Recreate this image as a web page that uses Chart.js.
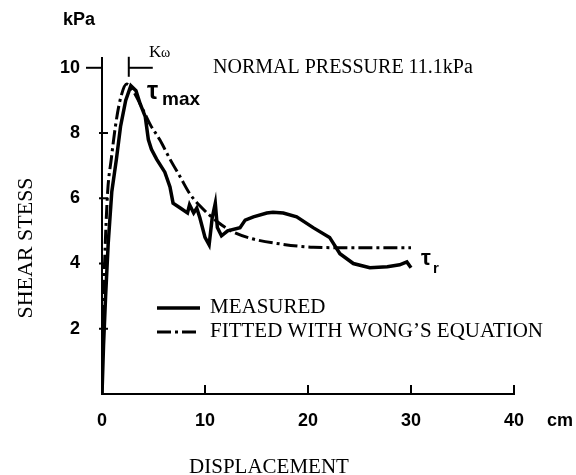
<!DOCTYPE html>
<html>
<head>
<meta charset="utf-8">
<title>Shear stress vs displacement</title>
<script src="https://cdn.jsdelivr.net/npm/chart.js@4.4.1/dist/chart.umd.min.js"></script>
<style>
  html, body { margin: 0; padding: 0; background: #fff; }
  canvas { display: block; }
</style>
</head>
<body>
<canvas id="chart" width="576" height="475"></canvas>
<script>
// displacement (cm) / shear stress (kPa)
const measuredX = [0, 0.15, 0.35, 0.6, 0.95, 1.4, 1.8, 2.3, 2.8, 3.3, 3.7, 4.2, 4.5, 4.8, 5.3, 6.1, 6.6, 6.9, 7.6, 8.3, 8.5, 8.9, 9.2, 9.5, 10.0, 10.4, 10.7, 11.0, 11.2, 11.6, 12.2, 13.4, 13.9, 14.7, 16.0, 16.6, 17.6, 18.9, 20.5, 22.1, 23.1, 24.4, 26.0, 27.7, 28.9, 29.6, 30.0];
const measuredY = [0, 1.5, 3.0, 4.6, 6.2, 7.2, 8.2, 9.0, 9.45, 9.3, 8.9, 8.5, 7.8, 7.5, 7.2, 6.8, 6.35, 5.85, 5.7, 5.55, 5.8, 5.55, 5.7, 5.4, 4.8, 4.57, 5.4, 5.85, 5.1, 4.85, 5.0, 5.1, 5.33, 5.43, 5.55, 5.57, 5.55, 5.43, 5.1, 4.8, 4.3, 4.0, 3.87, 3.9, 3.96, 4.05, 3.87];

const fittedX = [0, 0.1, 0.25, 0.55, 0.9, 1.3, 1.75, 2.4, 3.0, 4.0, 4.7, 5.6, 6.6, 7.6, 8.5, 9.5, 11.2, 12.7, 14.7, 17.3, 20.5, 25.0, 30.0];
const fittedY = [0, 2.2, 4.0, 6.2, 7.2, 8.2, 9.0, 9.5, 9.3, 8.7, 8.25, 7.8, 7.2, 6.65, 6.15, 5.77, 5.28, 4.97, 4.75, 4.6, 4.5, 4.48, 4.48];

const xTicks = [0, 10, 20, 30, 40];
const yTicks = [0, 2, 4, 6, 8, 10];
const seriesNames = ['MEASURED', 'FITTED WITH WONG\u2019S EQUATION'];
const peakX = 2.6; // K-omega marker

const toPoints = (xs, ys) => xs.map((x, i) => ({ x: x, y: ys[i] }));

const SANS = '"Liberation Sans", Arial, sans-serif';
const SERIF = '"Liberation Serif", "Times New Roman", serif';

const decorations = {
  id: 'decorations',
  afterDraw(chart) {
    const { ctx, scales: { x, y } } = chart;
    const line = (x1, y1, x2, y2) => {
      ctx.beginPath();
      ctx.moveTo(x1, y1);
      ctx.lineTo(x2, y2);
      ctx.stroke();
    };
    ctx.save();
    ctx.strokeStyle = '#000';
    ctx.fillStyle = '#000';
    ctx.lineWidth = 2;

    // inward ticks
    x.ticks.forEach(t => {
      if (t.value === 0) return;
      const px = x.getPixelForValue(t.value);
      line(px, y.bottom, px, y.bottom - 9);
    });
    y.ticks.forEach(t => {
      if (t.value === 0) return;
      const py = y.getPixelForValue(t.value);
      if (t.value === 10) line(x.left - 16, py, x.left, py);
      else line(x.left - 3, py, x.left + 6, py);
    });

    // K-omega marker
    const kx = x.getPixelForValue(peakX);
    const ky = y.getPixelForValue(10);
    line(kx, ky - 11, kx, ky + 9);
    line(kx, ky, kx + 24, ky);
    ctx.textBaseline = 'alphabetic';
    ctx.textAlign = 'left';
    ctx.font = '17px ' + SERIF;
    ctx.fillText('K', 149, 57);
    ctx.font = '14px ' + SERIF;
    ctx.fillText('\u03c9', 161, 57);

    ctx.font = '20px ' + SERIF;
    ctx.fillText('NORMAL PRESSURE 11.1kPa', 213, 73);

    // tau labels
    ctx.font = 'bold 25px ' + SANS;
    ctx.fillText('\u03c4', 147, 99);
    ctx.font = 'bold 19px ' + SANS;
    ctx.fillText('max', 162, 105);
    ctx.font = 'bold 22px ' + SANS;
    ctx.fillText('\u03c4', 421, 265);
    ctx.font = 'bold 15px ' + SANS;
    ctx.fillText('r', 433, 273);

    // units
    ctx.font = 'bold 18px ' + SANS;
    ctx.textBaseline = 'middle';
    ctx.fillText('kPa', 63, 20);
    ctx.fillText('cm', 547, 421);

    // legend
    ctx.textBaseline = 'alphabetic';
    ctx.font = '21px ' + SERIF;
    chart.data.datasets.forEach((ds, i) => {
      const ly = 308 + i * 24;
      ctx.save();
      ctx.lineWidth = ds.borderWidth;
      ctx.setLineDash(ds.borderDash || []);
      line(157, ly, 200, ly);
      ctx.restore();
      ctx.fillText(seriesNames[i], 210, ly + 5);
    });

    // axis titles
    ctx.font = '21px ' + SERIF;
    ctx.textAlign = 'center';
    ctx.fillText('DISPLACEMENT', 269, 473);
    ctx.save();
    ctx.translate(32, 248);
    ctx.rotate(-Math.PI / 2);
    ctx.font = '22px ' + SERIF;
    ctx.fillText('SHEAR STESS', 0, 0);
    ctx.restore();

    ctx.restore();
  }
};

new Chart(document.getElementById('chart'), {
  type: 'scatter',
  data: {
    datasets: [
      {
        label: seriesNames[0],
        data: toPoints(measuredX, measuredY),
        showLine: true,
        borderColor: '#000',
        borderWidth: 3.5,
        pointRadius: 0,
        tension: 0,
      },
      {
        label: seriesNames[1],
        data: toPoints(fittedX, fittedY),
        showLine: true,
        borderColor: '#000',
        borderWidth: 3,
        borderDash: [14, 4, 3, 4],
        pointRadius: 0,
        cubicInterpolationMode: 'monotone',
      },
    ],
  },
  options: {
    responsive: false,
    animation: false,
    layout: { padding: { top: 58, right: 62, bottom: 0, left: 0 } },
    plugins: {
      legend: { display: false },
      tooltip: { enabled: false },
    },
    scales: {
      x: {
        type: 'linear',
        min: 0,
        max: 40,
        afterBuildTicks: s => { s.ticks = xTicks.map(v => ({ value: v })); },
        afterFit: s => { s.height = 81; },
        grid: { display: false, drawTicks: false },
        border: { color: '#000', width: 2 },
        ticks: { color: '#000', padding: 16, font: { family: SANS, size: 18, weight: 'bold' } },
      },
      y: {
        type: 'linear',
        min: 0,
        max: 10.3,
        afterBuildTicks: s => { s.ticks = yTicks.map(v => ({ value: v })); },
        afterFit: s => { s.width = 102; },
        grid: { display: false, drawTicks: false },
        border: { color: '#000', width: 2 },
        ticks: {
          color: '#000',
          padding: 22,
          font: { family: SANS, size: 18, weight: 'bold' },
          callback: v => (v === 0 ? '' : v),
        },
      },
    },
  },
  plugins: [decorations],
});
</script>
</body>
</html>
